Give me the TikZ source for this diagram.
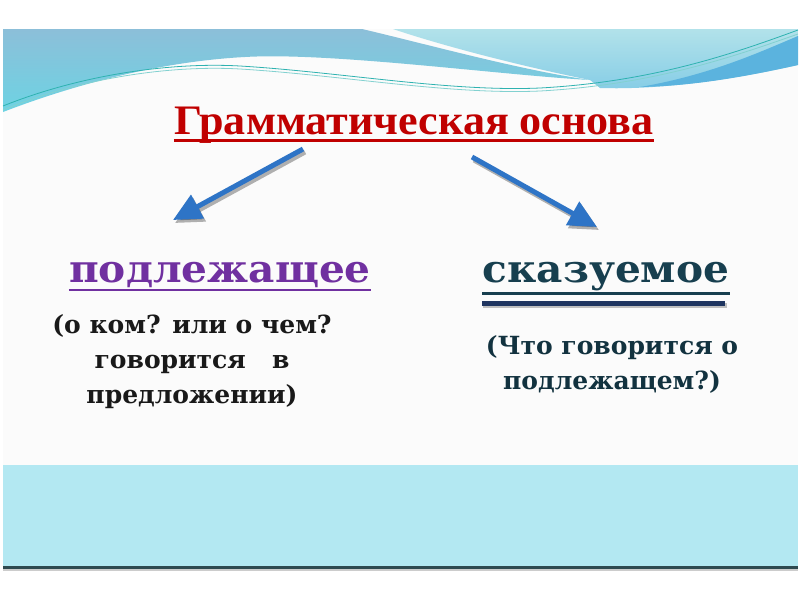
\documentclass[tikz,border=0pt]{standalone}
\usepackage{fontspec}
\setmainfont{Liberation Serif}
\newfontfamily\titlefont[FakeStretch=1.05]{Liberation Serif}
\newfontfamily\wordfont[FakeStretch=1.07]{DejaVu Serif}
\newfontfamily\notefont{DejaVu Serif}
\usepackage{tikz}
\usetikzlibrary{arrows.meta}

\definecolor{slidebg}{HTML}{FBFBFB}
\definecolor{waveA}{HTML}{8CBFD9}
\definecolor{waveB}{HTML}{6DD3E3}
\definecolor{waveC}{HTML}{B2E2EA}
\definecolor{waveD}{HTML}{86CDE6}
\definecolor{waveE}{HTML}{5BB3DE}
\definecolor{waveline}{HTML}{2EB2B0}
\definecolor{bandcol}{HTML}{B3E8F2}
\definecolor{bandline}{HTML}{2E4A50}
\definecolor{titlered}{HTML}{C00000}
\definecolor{subjcol}{HTML}{7030A0}
\definecolor{predcol}{HTML}{173F4F}
\definecolor{prednavy}{HTML}{1F3560}
\definecolor{arrowblue}{HTML}{2E74C6}

\tikzset{
  titletext/.style={inner sep=0pt,anchor=base,text=titlered,font=\titlefont\fontsize{42}{42}\selectfont\bfseries},
  headword/.style={inner sep=0pt,anchor=base,font=\wordfont\fontsize{38}{38}\selectfont\bfseries},
  captext/.style={inner sep=0pt,anchor=base,align=center,font=\notefont\fontsize{25}{35}\selectfont\bfseries},
  bluearrow/.style={draw=arrowblue,line width=5pt,-{Triangle[length=28pt,width=26pt]}},
  arrowshade/.style={draw=black,opacity=0.3,line width=5pt,-{Triangle[length=28pt,width=26pt]}},
  wline/.style={draw=waveline,line width=0.8pt}
}

\begin{document}
\begin{tikzpicture}[x=1pt,y=-1pt]
\useasboundingbox (0,0) rectangle (800,600);

% slide and header waves
\path[fill=slidebg] (3,29) rectangle (798,570);
\path[top color=waveA,bottom color=waveB] (3,29) -- (362,29) .. controls (430,45) and (520,70) .. (590,80) .. controls (500,75) and (330,52) .. (245,57) .. controls (150,62) and (60,90) .. (3,112) -- cycle;
\path[top color=waveC,bottom color=waveD] (393,29) -- (798,29) -- (798,65) .. controls (730,80) and (660,90) .. (600,88) -- (590,80) .. controls (520,66) and (440,45) .. (393,29) -- cycle;
\path[fill=waveE] (640,87) .. controls (710,75) and (760,52) .. (798,36) -- (798,65) .. controls (740,78) and (690,86) .. (640,87) -- cycle;
\draw[wline] (3,106) .. controls (80,75) and (170,62) .. (240,66) .. controls (340,72) and (450,92) .. (540,88) .. controls (650,82) and (730,55) .. (798,30);
\draw[wline,draw=waveline!60] (3,110) .. controls (80,78) and (170,65) .. (240,69) .. controls (340,75) and (450,95) .. (540,91) .. controls (650,85) and (730,58) .. (798,34);

% bottom band
\path[fill=bandcol] (3,465) rectangle (798,566);
\draw[black!20,line width=2pt] (3,570) -- (798,570);
\draw[bandline,line width=3pt] (3,567) -- (798,567);

% title
\path (414,134) node[titletext] (title) {Грамматическая основа};
\draw[titlered,line width=3pt] ([yshift=-6pt]title.base west) -- ([yshift=-6pt]title.base east);

% main words
\path (220,282) node[headword,text=subjcol] (subj) {подлежащее};
\draw[subjcol,line width=2.5pt] ([yshift=-8pt]subj.base west) -- ([yshift=-8pt]subj.base east);

\path (606,282) node[headword,text=predcol] (pred) {сказуемое};
\draw[predcol,line width=3pt] ([yshift=-11pt]pred.base west) -- ([yshift=-11pt]pred.base east);
\draw[black!25,line width=5pt] ([shift={(1,23)}]pred.base west) -- ([shift={(-3,23)}]pred.base east);
\draw[prednavy,line width=5pt] ([yshift=-21pt]pred.base west) -- ([shift={(-5,21)}]pred.base east);

% captions (base = last line)
\path (192,403) node[captext,text=black!90] (subjnote) {(о ком? или о чем?\\говорится\ \ \ в\\предложении)};
\path (612,389) node[captext,text=predcol!80!black] (prednote) {(Что говорится о\\подлежащем?)};

% arrows
\coordinate (ltail) at (303,149);
\coordinate (ltip) at (173,220);
\coordinate (rtail) at (472,157);
\coordinate (rtip) at (597,227);
\draw[arrowshade] ([shift={(2,3)}]ltail) -- ([shift={(2,3)}]ltip);
\draw[arrowshade] ([shift={(2,3)}]rtail) -- ([shift={(2,3)}]rtip);
\draw[bluearrow] (ltail) -- (ltip);
\draw[bluearrow] (rtail) -- (rtip);

\end{tikzpicture}
\end{document}
